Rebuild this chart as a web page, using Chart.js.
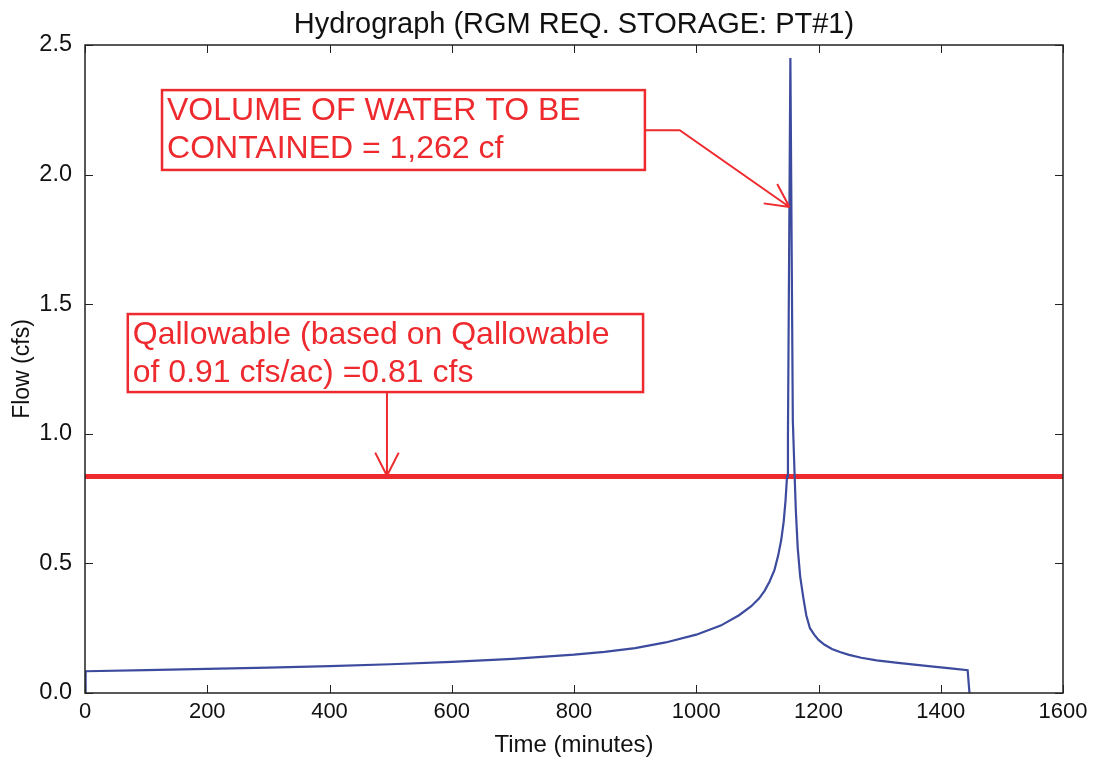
<!DOCTYPE html>
<html>
<head>
<meta charset="utf-8">
<script src="https://cdn.jsdelivr.net/npm/chart.js@4.4.0/dist/chart.umd.min.js"></script>
<style>
  html, body { margin: 0; padding: 0; background: #fff; }
</style>
</head>
<body>
<canvas id="myChart" width="1095" height="758"></canvas>
<script>
// Hydrograph: time (minutes) and flow (cfs)
const timeMin = [0, 1, 100, 200, 300, 400, 500, 600, 700, 800, 850, 900, 950, 1000, 1040, 1070, 1090, 1103, 1112, 1120, 1128, 1134, 1139, 1143, 1146, 1148.5, 1150, 1154,
  1158, 1161, 1163, 1166, 1170, 1175, 1180, 1186, 1193, 1200, 1210, 1222, 1235, 1250, 1270, 1295, 1330, 1380, 1420, 1444, 1447];
const flowCfs = [0, 0.084, 0.088, 0.093, 0.098, 0.104, 0.111, 0.12, 0.132, 0.148, 0.159, 0.173, 0.195, 0.225, 0.26, 0.30, 0.335, 0.365, 0.395, 0.43, 0.475, 0.53, 0.59, 0.66, 0.74, 0.835, 0.99, 2.45,
  1.05, 0.835, 0.7, 0.56, 0.45, 0.37, 0.3, 0.25, 0.225, 0.205, 0.186, 0.17, 0.158, 0.147, 0.136, 0.126, 0.116, 0.104, 0.094, 0.088, 0];

// Allowable flow line
const allowTime = [0, 1600];
const allowFlow = [0.835, 0.835];

const xTicks = [0, 200, 400, 600, 800, 1000, 1200, 1400, 1600];
const yTicks = [0, 0.5, 1.0, 1.5, 2.0, 2.5];

const chartTitle = 'Hydrograph (RGM REQ. STORAGE: PT#1)';
const volumeNote = ['VOLUME OF WATER TO BE', 'CONTAINED = 1,262 cf'];
const allowNote = ['Qallowable (based on Qallowable', 'of 0.91 cfs/ac) =0.81 cfs'];

const RED = '#ee2a2f';
const FONT = '"Liberation Sans", Arial, sans-serif';

// callouts, placed in data units (box: x0, yTop, x1, yBottom)
const callouts = [
  { lines: volumeNote, box: [126, 2.326, 916, 2.018], path: [[916, 2.171], [973, 2.171], [1152.5, 1.875]] },
  { lines: allowNote, box: [70, 1.462, 913, 1.161], path: [[494, 1.161], [494, 0.838]] }
];

const decor = {
  id: 'decor',
  afterDraw(chart) {
    const { ctx, chartArea: a, scales: { x, y } } = chart;
    ctx.save();

    // title centred over the plot area
    ctx.fillStyle = '#111';
    ctx.font = '29px ' + FONT;
    ctx.textAlign = 'center';
    ctx.textBaseline = 'middle';
    ctx.fillText(chartTitle, (a.left + a.right) / 2, 25);

    // frame
    ctx.strokeStyle = '#222';
    ctx.lineWidth = 1.5;
    ctx.strokeRect(a.left, a.top, a.right - a.left, a.bottom - a.top);

    // inward ticks on all four sides (matplotlib look)
    ctx.lineWidth = 1;
    ctx.beginPath();
    xTicks.forEach(v => {
      const px = Math.round(x.getPixelForValue(v)) + 0.5;
      ctx.moveTo(px, a.bottom); ctx.lineTo(px, a.bottom - 8);
      ctx.moveTo(px, a.top); ctx.lineTo(px, a.top + 8);
    });
    yTicks.forEach(v => {
      const py = Math.round(y.getPixelForValue(v)) + 0.5;
      ctx.moveTo(a.left, py); ctx.lineTo(a.left + 8, py);
      ctx.moveTo(a.right, py); ctx.lineTo(a.right - 8, py);
    });
    ctx.stroke();

    // callout boxes and arrows
    ctx.strokeStyle = RED;
    ctx.fillStyle = RED;
    ctx.font = '32px ' + FONT;
    ctx.textAlign = 'left';
    ctx.textBaseline = 'alphabetic';
    callouts.forEach(c => {
      const x0 = x.getPixelForValue(c.box[0]), y0 = y.getPixelForValue(c.box[1]);
      const x1 = x.getPixelForValue(c.box[2]), y1 = y.getPixelForValue(c.box[3]);
      ctx.lineWidth = 2.5;
      ctx.strokeRect(x0, y0, x1 - x0, y1 - y0);
      c.lines.forEach((t, i) => ctx.fillText(t, x0 + 5, y0 + 30 + i * 38));

      const pts = c.path.map(p => [x.getPixelForValue(p[0]), y.getPixelForValue(p[1])]);
      ctx.lineWidth = 2;
      ctx.beginPath();
      ctx.moveTo(pts[0][0], pts[0][1]);
      pts.slice(1).forEach(p => ctx.lineTo(p[0], p[1]));
      // open arrow head
      const [tx, ty] = pts[pts.length - 1];
      const [fx, fy] = pts[pts.length - 2];
      const ang = Math.atan2(fy - ty, fx - tx);
      [0.47, -0.47].forEach(d => {
        ctx.moveTo(tx, ty);
        ctx.lineTo(tx + 26 * Math.cos(ang + d), ty + 26 * Math.sin(ang + d));
      });
      ctx.stroke();
    });
    ctx.restore();
  }
};

const ctx = document.getElementById('myChart').getContext('2d');
new Chart(ctx, {
  type: 'scatter',
  data: {
    datasets: [
      {
        data: timeMin.map((t, i) => ({ x: t, y: flowCfs[i] })),
        showLine: true,
        borderColor: '#3d4b9e',
        borderWidth: 2.2,
        pointRadius: 0,
        tension: 0
      },
      {
        data: allowTime.map((t, i) => ({ x: t, y: allowFlow[i] })),
        showLine: true,
        borderColor: RED,
        borderWidth: 5,
        pointRadius: 0
      }
    ]
  },
  options: {
    responsive: false,
    animation: false,
    layout: { padding: { left: 0, right: 32, top: 45, bottom: 0 } },
    scales: {
      x: {
        type: 'linear',
        min: 0, max: 1600,
        afterFit: s => { s.height = 65; },
        afterBuildTicks: s => { s.ticks = xTicks.map(v => ({ value: v })); },
        grid: { display: false, drawTicks: false },
        border: { display: false },
        ticks: { color: '#111', font: { family: FONT, size: 22 }, padding: 6, maxRotation: 0, callback: v => String(v) },
        title: { display: true, text: 'Time (minutes)', color: '#111', font: { family: FONT, size: 24, lineHeight: 1 }, padding: { top: 0, bottom: 1 } }
      },
      y: {
        type: 'linear',
        min: 0, max: 2.5,
        afterFit: s => { s.width = 85; },
        afterBuildTicks: s => { s.ticks = yTicks.map(v => ({ value: v })); },
        grid: { display: false, drawTicks: false },
        border: { display: false },
        ticks: { color: '#111', font: { family: FONT, size: 23.5 }, padding: 13, callback: v => v.toFixed(1) },
        title: { display: true, text: 'Flow (cfs)', color: '#111', font: { family: FONT, size: 23, lineHeight: 1 }, padding: { top: 11, bottom: 0 } }
      }
    },
    plugins: {
      legend: { display: false },
      tooltip: { enabled: false },
      title: { display: false }
    }
  },
  plugins: [decor]
});
</script>
</body>
</html>
